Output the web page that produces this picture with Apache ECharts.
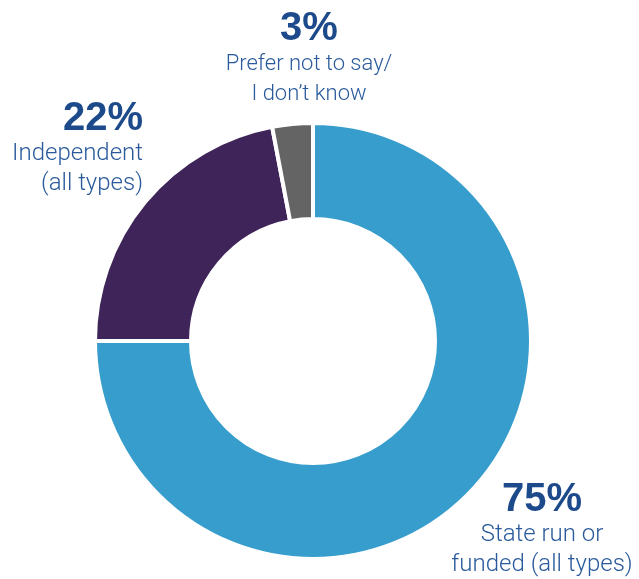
<!DOCTYPE html>
<html>
<head>
<meta charset="utf-8">
<script src="https://cdn.jsdelivr.net/npm/echarts@6/dist/echarts.min.js"></script>
<style>
html,body{margin:0;padding:0;background:#fff;}
#main{width:639px;height:579px;}
</style>
</head>
<body>
<div id="main"></div>
<script>
const categories = ['State run or\nfunded (all types)', 'Independent\n(all types)', 'Prefer not to say/\nI don\u2019t know'];
const values = [75, 22, 3];
const colors = ['#379dcc', '#3e2459', '#646464'];

const labelPos = [
  {x: 542, y: 480, align: 'center', txt: 'txt'},
  {x: 143, y: 99, align: 'right', txt: 'txt'},
  {x: 309, y: 9, align: 'center', txt: 'txtS'}
];

const chart = echarts.init(document.getElementById('main'));
chart.setOption({
  animation: false,
  series: [{
    type: 'pie',
    center: [313, 341],
    radius: [122, 218],
    startAngle: 90,
    clockwise: true,
    avoidLabelOverlap: false,
    itemStyle: { borderColor: '#fff', borderWidth: 4 },
    labelLine: { show: false },
    label: {
      show: true,
      position: 'outside',
      formatter: function (p) {
        const t = labelPos[p.dataIndex].txt;
        return '{pct|' + p.value + '%}\n' + p.name.split('\n').map(l => '{' + t + '|' + l + '}').join('\n');
      },
      rich: {
        pct: { fontSize: 40, fontWeight: 'bold', color: '#1d4a8a', lineHeight: 40, fontFamily: 'Liberation Sans, Arial, sans-serif' },
        txt: { fontSize: 24, fontWeight: 300, color: '#2a5a9b', lineHeight: 30, fontFamily: 'Roboto, sans-serif' },
        txtS: { fontSize: 22, fontWeight: 300, color: '#2a5a9b', lineHeight: 30, fontFamily: 'Roboto, sans-serif' }
      }
    },
    labelLayout: function (params) {
      const p = labelPos[params.dataIndex];
      return { x: p.x, y: p.y, align: p.align, verticalAlign: 'top' };
    },
    data: categories.map((c, i) => ({ name: c, value: values[i], itemStyle: { color: colors[i] }, label: { align: labelPos[i].align } }))
  }]
});
</script>
</body>
</html>
